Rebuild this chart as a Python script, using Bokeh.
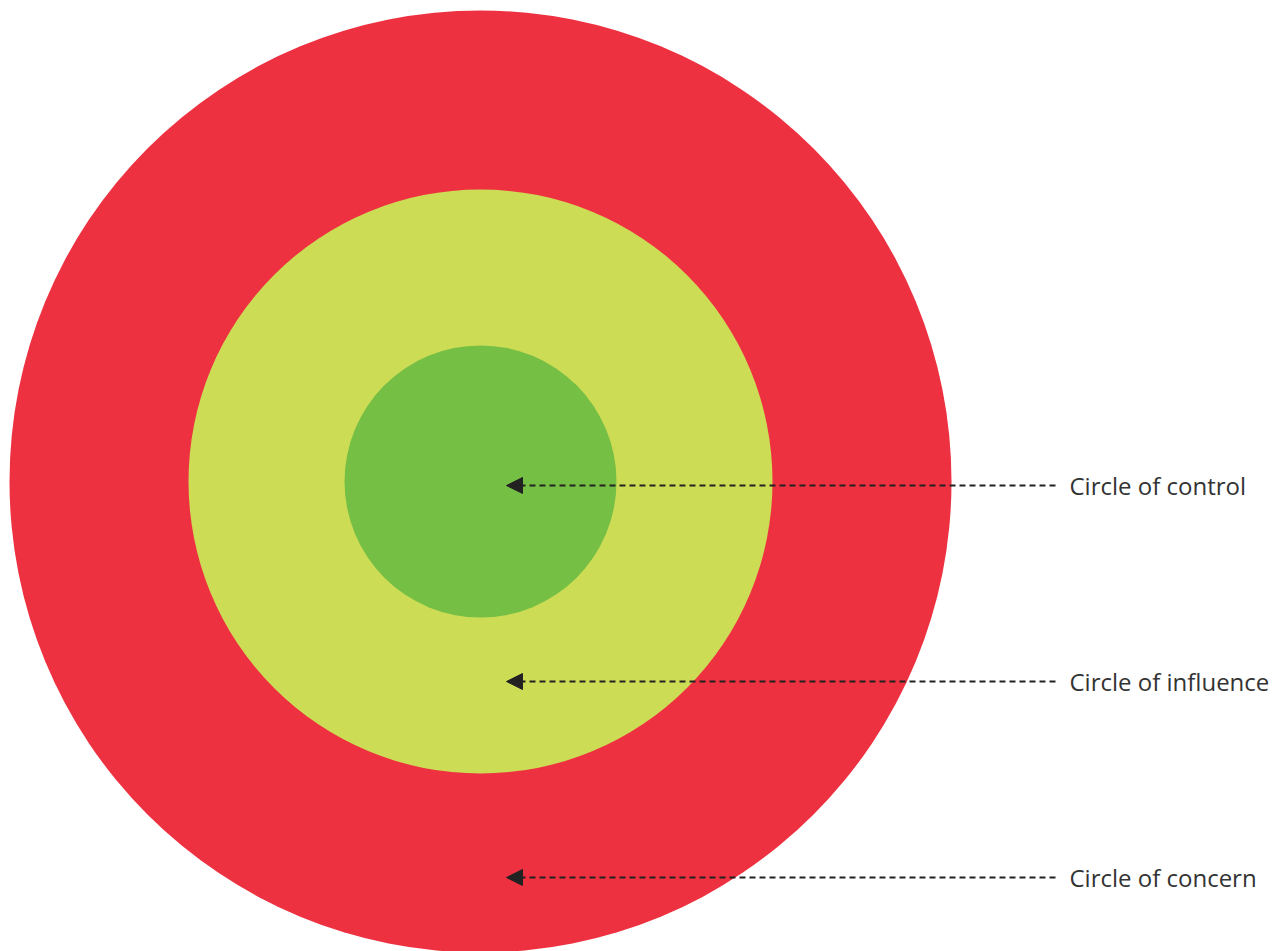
from bokeh.plotting import figure
from bokeh.models import Arrow, NormalHead, Range1d, ColumnDataSource
from bokeh.core.properties import value
from bokeh.embed import file_html
from bokeh.resources import INLINE

# Data
layers = ["Circle of concern", "Circle of influence", "Circle of control"]
radii = [471, 292, 136]
colors = ["#EE3140", "#CDDC55", "#76BF45"]
# label y positions (data units) for each layer annotation
label_y = [74, 270, 466]

W, H = 1281, 951
p = figure(width=W, height=H, output_backend="svg", toolbar_location=None,
           x_range=Range1d(0, W), y_range=Range1d(0, H), min_border=0,
           match_aspect=False)
p.axis.visible = False
p.grid.visible = False
p.outline_line_color = None
p.background_fill_color = "white"
p.border_fill_color = "white"

cx, cy = 480, 470
src = ColumnDataSource(dict(x=[cx] * 3, y=[cy] * 3, r=radii, c=colors))
p.circle(x="x", y="y", radius="r", fill_color="c", line_color=None, source=src)

for name, ly in zip(layers, label_y):
    head = NormalHead(size=16, fill_color="#222222", line_color="#222222", line_width=1)
    p.add_layout(Arrow(end=head, x_start=1055, y_start=ly, x_end=506, y_end=ly,
                       line_color="#222222", line_width=2, line_dash="6 4"))

p.text(x=[1069] * 3, y=label_y, text=layers, text_font=value("Open Sans"),
       text_font_size="24px", text_color="#333333", text_baseline="middle",
       text_align="left")

open("out.html", "w").write(file_html(p, INLINE))
